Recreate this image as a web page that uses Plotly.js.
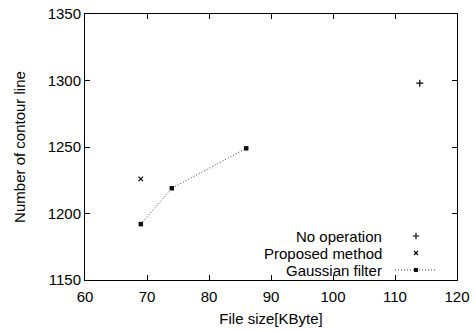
<!DOCTYPE html>
<html><head><meta charset="utf-8">
<script src="https://cdn.plot.ly/plotly-3.0.1.min.js"></script>
<style>html,body{margin:0;padding:0;background:#fff}#chart{width:476px;height:331px}</style>
</head><body><div id="chart"></div>
<script>
const seriesNames = ["No operation", "Proposed method", "Gaussian filter"];
const noOpX = [114];
const noOpY = [1298];
const proposedX = [69];
const proposedY = [1226];
const gaussX = [69, 74, 86];
const gaussY = [1192, 1219, 1249];
const xTicks = [60, 70, 80, 90, 100, 110, 120];
const yTicks = [1150, 1200, 1250, 1300, 1350];

const F = "Liberation Sans, Arial, Helvetica, sans-serif";
const FS = 15;
const traces = [
  {x: noOpX, y: noOpY, mode: 'markers', name: seriesNames[0],
   marker: {symbol: 'cross-thin', size: 5, line: {color: '#000', width: 1.2}}},
  {x: proposedX, y: proposedY, mode: 'markers', name: seriesNames[1],
   marker: {symbol: 'x-thin', size: 4.5, line: {color: '#000', width: 1.2}}},
  {x: gaussX, y: gaussY, mode: 'lines+markers', name: seriesNames[2],
   line: {color: '#444', width: 1, dash: '1px,2px'},
   marker: {symbol: 'square', size: 4.5, color: '#111'}},
  // legend samples on a hidden overlay axis
  {x: [0.5], y: [0.5], xaxis: 'x2', yaxis: 'y2', mode: 'markers', showlegend: false, hoverinfo: 'skip',
   marker: {symbol: 'cross-thin', size: 4.5, line: {color: '#000', width: 1.1}}},
  {x: [0.5], y: [0.5], xaxis: 'x2', yaxis: 'y3', mode: 'markers', showlegend: false, hoverinfo: 'skip',
   marker: {symbol: 'x-thin', size: 4, line: {color: '#000', width: 1.1}}},
  {x: [0, 0.5, 1], y: [0.5, 0.5, 0.5], xaxis: 'x2', yaxis: 'y4', mode: 'lines', showlegend: false, hoverinfo: 'skip',
   line: {color: '#444', width: 1, dash: '1px,2px'}},
  {x: [0.5], y: [0.5], xaxis: 'x2', yaxis: 'y4', mode: 'markers', showlegend: false, hoverinfo: 'skip',
   marker: {symbol: 'square', size: 4, color: '#111'}}
];
const ax = {showline: true, linecolor: '#000', linewidth: 1, mirror: 'ticks', ticks: 'inside', ticklen: 5,
  tickcolor: '#000', showgrid: false, zeroline: false, tickfont: {family: F, size: FS, color: '#000'}};
const W = 476, H = 331, L = 85, R = 19, T = 14, B = 51;
const pw = W - L - R, ph = H - T - B;
const hid = {visible: false, range: [0, 1], fixedrange: true};
function dy(py, h) { const c = 1 - (py - T) / ph; return [c - h / 2 / ph, c + h / 2 / ph]; }
function dx(x0, x1) { return [(x0 - L) / pw, (x1 - L) / pw]; }
const legendRows = [236, 253, 270];
const layout = {
  width: W, height: H, margin: {l: L, r: R, t: T, b: B},
  paper_bgcolor: '#fff', plot_bgcolor: '#fff', showlegend: false,
  font: {family: F, size: FS, color: '#000'},
  xaxis: Object.assign({}, ax, {range: [60, 120], tickvals: xTicks, ticklabelstandoff: 3,
    title: {text: 'File size[KByte]', font: {family: F, size: FS}, standoff: 9}}),
  yaxis: Object.assign({}, ax, {range: [1150, 1350], tickvals: yTicks,
    title: {text: 'Number of contour line', font: {family: F, size: FS}, standoff: 18}}),
  xaxis2: Object.assign({}, hid, {domain: dx(395, 437), anchor: 'y2'}),
  yaxis2: Object.assign({}, hid, {domain: dy(legendRows[0], 10), anchor: 'x2'}),
  yaxis3: Object.assign({}, hid, {domain: dy(legendRows[1], 10), anchor: 'x2'}),
  yaxis4: Object.assign({}, hid, {domain: dy(legendRows[2], 10), anchor: 'x2'}),
  annotations: seriesNames.map((n, i) => ({
    text: n, xref: 'paper', yref: 'paper', x: (384 - L) / pw, y: 1 - (legendRows[i] - T) / ph,
    xanchor: 'right', yanchor: 'middle', showarrow: false, font: {family: F, size: FS, color: '#000'}
  }))
};
Plotly.newPlot('chart', traces, layout, {displayModeBar: false, staticPlot: true});
</script></body></html>
